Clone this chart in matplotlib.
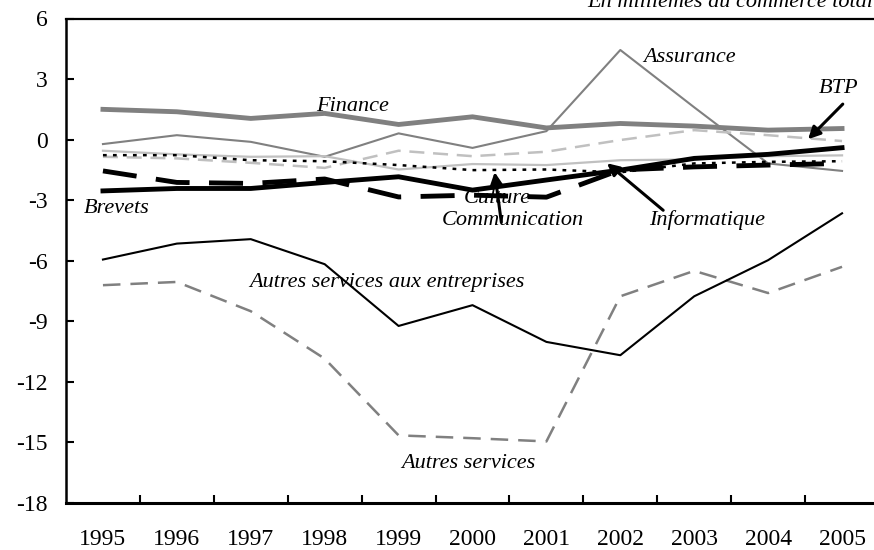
import numpy as np
from matplotlib import pyplot as plt

years = ['1995', '1996', '1997', '1998', '1999', '2000',
         '2001', '2002', '2003', '2004', '2005']

finance = [1.5, 1.38, 1.05, 1.3, 0.75, 1.13, 0.58, 0.8, 0.67, 0.47, 0.55]
assurance = [-0.22, 0.22, -0.11, -0.85, 0.31, -0.41, 0.42, 4.44, 1.6, -1.18, -1.55]
btp = [-0.85, -0.93, -1.15, -1.4, -0.55, -0.82, -0.6, -0.02, 0.47, 0.22, -0.07]
informatique = [-0.55, -0.73, -0.85, -0.82, -1.48, -1.21, -1.26, -1.02, -0.98, -0.82, -0.78]
communication = [-0.77, -0.77, -1.02, -1.07, -1.26, -1.51, -1.48, -1.62, -1.18, -1.1, -1.07]
culture = [-1.55, -2.12, -2.17, -1.95, -2.84, -2.75, -2.85, -1.5, -1.35, -1.26, -1.18]
brevets = [-2.54, -2.42, -2.42, -2.12, -1.84, -2.5, -2.0, -1.51, -0.93, -0.73, -0.4]
autres_entreprises = [-5.94, -5.15, -4.93, -6.17, -9.23, -8.2, -10.02, -10.68, -7.76, -5.97, -3.65]
autres_services = [-7.21, -7.05, -8.5, -10.85, -14.65, -14.79, -14.95, -7.76, -6.5, -7.6, -6.3]

plt.rcParams['font.family'] = ['Liberation Serif', 'DejaVu Serif']
plt.rcParams['axes.unicode_minus'] = False

fig = plt.figure(figsize=(8.74, 5.5), dpi=100)
ax = fig.add_axes([66 / 874, 47 / 550, 813 / 874, 484.5 / 550])

x = np.arange(len(years))
ax.plot(x, autres_services, color='#808080', lw=1.8, dashes=(7, 4))
ax.plot(x, autres_entreprises, color='black', lw=1.5)
ax.plot(x, assurance, color='#808080', lw=1.5)
ax.plot(x, informatique, color='#c0c0c0', lw=1.6)
ax.plot(x, btp, color='#c0c0c0', lw=1.8, dashes=(6, 3.5))
ax.plot(x, communication, color='black', lw=1.8, dashes=(1.5, 2.5))
ax.plot(x, culture, color='black', lw=3.5, dashes=(7, 4))
ax.plot(x, brevets, color='black', lw=3.5)
ax.plot(x, finance, color='#808080', lw=3.5)

ax.set_xlim(-0.5, 10.5)
ax.set_ylim(-18, 6)
ax.set_yticks(np.arange(-18, 7, 3))
ax.set_xticks(x[:-1] + 0.5)
ax.set_xticklabels([])
ax.set_xticks(x, minor=True)
ax.set_xticklabels(years, minor=True)
ax.tick_params(axis='x', which='major', direction='in', length=6, width=1.5)
ax.tick_params(axis='x', which='minor', length=0, pad=18.5, labelsize=17)
ax.tick_params(axis='y', direction='in', length=6, width=1.5, pad=13, labelsize=17)

ax.spines['right'].set_visible(False)
ax.spines['bottom'].set_linewidth(2.2)
ax.spines['left'].set_linewidth(1.8)
ax.spines['top'].set_linewidth(1.6)

lab = dict(fontsize=16, style='italic', ha='center', va='center')
ax.text(3.38, 1.66, 'Finance', **lab)
ax.text(7.94, 4.09, 'Assurance', **lab)
ax.text(9.95, 2.55, 'BTP', **lab)
ax.text(0.19, -3.40, 'Brevets', **lab)
ax.text(5.55, -3.99, 'Communication', **lab)
ax.text(5.33, -2.90, 'Culture', **lab)
ax.text(8.17, -3.99, 'Informatique', **lab)
ax.text(3.84, -7.07, 'Autres services aux entreprises', **lab)
ax.text(4.94, -16.03, 'Autres services', **lab)

arrow = dict(arrowstyle='-|>', lw=2.2, color='black', mutation_scale=18,
             shrinkA=0, shrinkB=0)
ax.annotate('', xy=(9.54, 0.02), xytext=(10.01, 1.76), arrowprops=arrow)
ax.annotate('', xy=(5.30, -1.61), xytext=(5.39, -4.09), arrowprops=arrow)
ax.annotate('', xy=(6.82, -1.17), xytext=(7.58, -3.50), arrowprops=arrow)

fig.text(873 / 874, 1 - 7 / 550, 'En millièmes du commerce total', fontsize=16,
         style='italic', ha='right', va='baseline')

fig.savefig('out.png', dpi=100)
